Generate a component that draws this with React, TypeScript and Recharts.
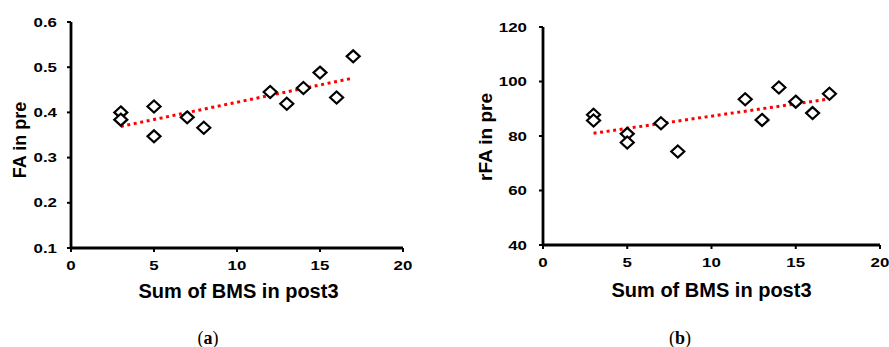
import { ScatterChart, Scatter, XAxis, YAxis } from "recharts";

// BMS sum in post3 (shared x values)
const bmsA = [3, 3, 5, 5, 7, 8, 12, 13, 14, 15, 16, 17];
const faPre = [0.4, 0.384, 0.413, 0.347, 0.389, 0.366, 0.445, 0.419, 0.454, 0.488, 0.433, 0.524];

const bmsB = [3, 3, 5, 5, 7, 8, 12, 13, 14, 15, 16, 17];
const rfaPre = [87.8, 85.7, 80.8, 77.6, 84.7, 74.3, 93.5, 85.9, 97.8, 92.6, 88.4, 95.5];

// linear trend line end points
const trendX = [3, 17];
const trendFA = [0.369, 0.476];
const trendRFA = [81.0, 93.6];

const xTicks = [0, 5, 10, 15, 20];
const faTicks = [0.1, 0.2, 0.3, 0.4, 0.5, 0.6];
const rfaTicks = [40, 60, 80, 100, 120];

const pointsA = bmsA.map((x, i) => ({ x, y: faPre[i] }));
const pointsB = bmsB.map((x, i) => ({ x, y: rfaPre[i] }));
const lineA = trendX.map((x, i) => ({ x, y: trendFA[i] }));
const lineB = trendX.map((x, i) => ({ x, y: trendRFA[i] }));

const FONT = "'Liberation Sans', Arial, sans-serif";

function XTick(props: any) {
  const { x, y, payload } = props;
  return (
    <g transform={`translate(${x},${y})`}>
      <text
        transform="scale(1.3,1)"
        textAnchor="middle"
        dy="0.71em"
        fontFamily={FONT}
        fontWeight="bold"
        fontSize={13}
        fill="#000"
      >
        {payload.value}
      </text>
    </g>
  );
}

function makeYTick(decimals: number) {
  return function YTick(props: any) {
    const { x, y, payload } = props;
    return (
      <g transform={`translate(${x},${y})`}>
        <text
          transform="scale(1.3,1)"
          textAnchor="end"
          dy="0.355em"
          fontFamily={FONT}
          fontWeight="bold"
          fontSize={13}
          fill="#000"
        >
          {Number(payload.value).toFixed(decimals)}
        </text>
      </g>
    );
  };
}

function Diamond(props: any) {
  const { cx, cy } = props;
  if (cx == null || cy == null) return <g />;
  const w = 6.5;
  const h = 6;
  return (
    <path
      d={`M${cx},${cy - h} L${cx + w},${cy} L${cx},${cy + h} L${cx - w},${cy} Z`}
      fill="#fff"
      stroke="#000"
      strokeWidth={2.2}
    />
  );
}

const noShape = () => <g />;

const axisLine = { stroke: "#000", strokeWidth: 2.8 };
const tickLine = { stroke: "#000", strokeWidth: 2 };
const trendStyle = { stroke: "#ff0000", strokeWidth: 3, strokeDasharray: "3 3.6" };

export default function App() {
  return (
    <div style={{ position: "absolute", left: 0, top: 0, width: 889, height: 347, background: "#fff" }}>
      <div style={{ position: "absolute", left: 0, top: 0 }}>
        <ScatterChart width={420} height={300} margin={{ top: 22, right: 17, left: 0, bottom: 0 }}>
          <XAxis
            type="number"
            dataKey="x"
            domain={[0, 20]}
            ticks={xTicks}
            height={52}
            axisLine={axisLine}
            tickLine={tickLine}
            tickSize={4}
            tickMargin={9}
            tick={<XTick />}
            interval={0}
          />
          <YAxis
            type="number"
            dataKey="y"
            domain={[0.1, 0.6]}
            ticks={faTicks}
            width={71}
            axisLine={axisLine}
            tickLine={tickLine}
            tickSize={4}
            tickMargin={10}
            tick={makeYTick(1)}
            interval={0}
          />
          <Scatter data={lineA} line={trendStyle} shape={noShape} isAnimationActive={false} />
          <Scatter data={pointsA} shape={<Diamond />} isAnimationActive={false} />
        </ScatterChart>
      </div>
      <div style={{ position: "absolute", left: 440, top: 0 }}>
        <ScatterChart width={449} height={300} margin={{ top: 27, right: 9, left: 0, bottom: 0 }}>
          <XAxis
            type="number"
            dataKey="x"
            domain={[0, 20]}
            ticks={xTicks}
            height={55}
            axisLine={axisLine}
            tickLine={tickLine}
            tickSize={4}
            tickMargin={9}
            tick={<XTick />}
            interval={0}
          />
          <YAxis
            type="number"
            dataKey="y"
            domain={[40, 120]}
            ticks={rfaTicks}
            width={103}
            axisLine={axisLine}
            tickLine={tickLine}
            tickSize={4}
            tickMargin={12}
            tick={makeYTick(0)}
            interval={0}
          />
          <Scatter data={lineB} line={trendStyle} shape={noShape} isAnimationActive={false} />
          <Scatter data={pointsB} shape={<Diamond />} isAnimationActive={false} />
        </ScatterChart>
      </div>
      <svg
        width={889}
        height={347}
        style={{ position: "absolute", left: 0, top: 0, pointerEvents: "none" }}
      >
        <g fontFamily={FONT} fontWeight="bold" fill="#000">
          <text x={238.5} y={298} textAnchor="middle" fontSize={20}>
            Sum of BMS in post3
          </text>
          <text x={711.5} y={297} textAnchor="middle" fontSize={20}>
            Sum of BMS in post3
          </text>
          <text
            transform="translate(20,140) rotate(-90)"
            textAnchor="middle"
            dominantBaseline="central"
            fontSize={18}
          >
            FA in pre
          </text>
          <text
            transform="translate(485,137) rotate(-90)"
            textAnchor="middle"
            dominantBaseline="central"
            fontSize={19}
          >
            rFA in pre
          </text>
        </g>
        <g fontFamily="'Liberation Serif', 'DejaVu Serif', serif" fontSize={18} fill="#000">
          <text x={208} y={344} textAnchor="middle">
            (<tspan fontWeight="bold">a</tspan>)
          </text>
          <text x={680} y={344} textAnchor="middle">
            (<tspan fontWeight="bold">b</tspan>)
          </text>
        </g>
      </svg>
    </div>
  );
}
